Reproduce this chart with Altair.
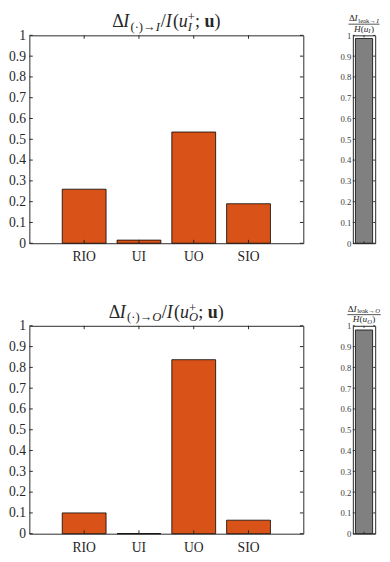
import altair as alt
import pandas as pd

# ---------------- data ----------------
categories = ["RIO", "UI", "UO", "SIO"]
input_values = [0.26, 0.015, 0.535, 0.19]
output_values = [0.10, 0.0, 0.837, 0.065]
leak_category = ["leak"]
leak_input_value = [0.985]
leak_output_value = [0.98]
y_ticks = [0, 0.1, 0.2, 0.3, 0.4, 0.5, 0.6, 0.7, 0.8, 0.9, 1]

# ---------------- style ----------------
FONT = "Liberation Serif"
ORANGE = "#D95319"
GRAY = "#808080"
INK = "#262626"
W, H, WS = 282, 214, 23
TL = 3.5      # inward tick length, main panels
TLS = 2.0     # inward tick length, small panels

EM = {
    "r": {"Δ": 0.612, "(": 0.333, ")": 0.333, "/": 0.278, ";": 0.278, " ": 0.25,
          "·": 0.25, "→": 1.08, "+": 0.564, "l": 0.278, "e": 0.444, "a": 0.444,
          "k": 0.5, "H": 0.722},
    "i": {"I": 0.4, "u": 0.5, "O": 0.75, "H": 0.722},
    "b": {"u": 0.556},
}


def text_width(t, style, size):
    tbl = EM[style]
    return sum(tbl.get(c, 0.5) for c in t) * size


def text_layer(t, style, size, x, y):
    kw = dict(align="left", baseline="alphabetic", font=FONT, fontSize=size, color=INK)
    if style == "i":
        kw["fontStyle"] = "italic"
    if style == "b":
        kw["fontWeight"] = "bold"
    return alt.Chart(pd.DataFrame({"t": [t]})).mark_text(**kw).encode(
        x=alt.value(x), y=alt.value(y), text="t:N")


def place(items, cx, base):
    widths = []
    for it in items:
        group = it if isinstance(it, list) else [it]
        widths.append(max(text_width(t, s, z) for t, s, z, d in group))
    total = sum(widths)
    x = cx - total / 2
    layers = []
    for it, w in zip(items, widths):
        group = it if isinstance(it, list) else [it]
        for t, s, z, d in group:
            layers.append(text_layer(t, s, z, x, base + d))
        x += w
    return layers, total


def main_panel(values, s):
    df = pd.DataFrame({"cat": categories, "val": values})
    xs = alt.Scale(type="band", domain=categories, paddingInner=0.2, paddingOuter=0.6)
    ys = alt.Scale(domain=[0, 1], nice=False, zero=True)
    ax_x = alt.Axis(ticks=False, domain=False, grid=False, labelAngle=0, labelPadding=7,
                    labelFont=FONT, labelFontSize=14, labelColor=INK, title=None)
    ax_y = alt.Axis(values=y_ticks, format="~g", ticks=False, domain=False, grid=False,
                    labelPadding=4, labelFont=FONT, labelFontSize=14, labelColor=INK,
                    title=None)

    def X():
        return alt.X("cat:N", scale=xs, axis=ax_x, sort=categories)

    def Y():
        return alt.Y("val:Q", scale=ys, axis=ax_y)

    bars = alt.Chart(df).mark_bar(color=ORANGE, stroke="black", strokeWidth=0.8).encode(
        x=X(), y=Y())
    tdf = pd.DataFrame({"val": y_ticks})
    cdf = pd.DataFrame({"cat": categories})
    rs = dict(color=INK, strokeWidth=1)
    left = alt.Chart(tdf).mark_rule(**rs).encode(y=Y(), x=alt.value(0), x2=alt.value(TL))
    right = alt.Chart(tdf).mark_rule(**rs).encode(y=Y(), x=alt.value(W - TL), x2=alt.value(W))
    bottom = alt.Chart(cdf).mark_rule(**rs).encode(x=X(), y=alt.value(H), y2=alt.value(H - TL))
    top = alt.Chart(cdf).mark_rule(**rs).encode(x=X(), y=alt.value(0), y2=alt.value(TL))

    B, S = 18.5, 13
    SUB, SUP = 3.5, -6
    items = [("Δ", "r", B, 0), ("I", "i", B, 0), ("(·)→", "r", S, SUB), (s, "i", S, SUB),
             ("/", "r", B, 0), ("I", "i", B, 0), ("(", "r", B, 0), ("u", "i", B, 0),
             [("+", "r", S, SUP), (s, "i", S, SUB)], ("; ", "r", B, 0), ("u", "b", B, 0),
             (")", "r", B, 0)]
    title_layers, _ = place(items, W / 2, -8.3)
    return alt.layer(bars, left, right, bottom, top, *title_layers).properties(width=W, height=H)


def small_panel(value, s):
    df = pd.DataFrame({"k": leak_category, "val": value})
    xs = alt.Scale(type="band", domain=leak_category, paddingInner=0, paddingOuter=0.15)
    ys = alt.Scale(domain=[0, 1], nice=False, zero=True)
    ax_y = alt.Axis(values=y_ticks, format="~g", ticks=False, domain=False, grid=False,
                    labelPadding=2, labelFont=FONT, labelFontSize=9, labelColor="#404040",
                    title=None)

    def X():
        return alt.X("k:N", scale=xs, axis=None)

    def Y():
        return alt.Y("val:Q", scale=ys, axis=ax_y)

    bars = alt.Chart(df).mark_bar(color=GRAY, stroke="black", strokeWidth=0.8).encode(
        x=X(), y=Y())
    tdf = pd.DataFrame({"val": y_ticks})
    kdf = pd.DataFrame({"k": leak_category})
    rs = dict(color=INK, strokeWidth=1)
    left = alt.Chart(tdf).mark_rule(**rs).encode(y=Y(), x=alt.value(0), x2=alt.value(TLS))
    right = alt.Chart(tdf).mark_rule(**rs).encode(y=Y(), x=alt.value(WS - TLS), x2=alt.value(WS))
    bottom = alt.Chart(kdf).mark_rule(**rs).encode(x=X(), y=alt.value(H), y2=alt.value(H - TLS))
    top = alt.Chart(kdf).mark_rule(**rs).encode(x=X(), y=alt.value(0), y2=alt.value(TLS))

    F, f = 9.5, 6.8
    num = [("Δ", "r", F, 0), ("I", "i", F, 0), ("leak→", "r", f, 1.5), (s, "i", f, 1.5)]
    den = [("H", "i", F, 0), ("(", "r", F, 0), ("u", "i", F, 0), (s, "i", f, 1.5), (")", "r", F, 0)]
    nl, wn = place(num, WS / 2, -14.5)
    dl, wd = place(den, WS / 2, -3.5)
    w = max(wn, wd)
    line = alt.Chart(pd.DataFrame({"a": [0]})).mark_rule(color=INK, strokeWidth=0.8).encode(
        x=alt.value(WS / 2 - w / 2 - 0.5), x2=alt.value(WS / 2 + w / 2 + 0.5), y=alt.value(-11.5))
    return alt.layer(bars, left, right, bottom, top, line, *nl, *dl).properties(width=WS, height=H)


chart = alt.concat(
    main_panel(input_values, "I"), small_panel(leak_input_value, "I"),
    main_panel(output_values, "O"), small_panel(leak_output_value, "O"),
    columns=2, spacing={"row": 85, "column": 51}, bounds="flush", align="each",
).properties(
    padding={"left": 0, "top": -5, "right": 0, "bottom": 0}
).configure_view(stroke=INK, strokeWidth=1)

chart.save("out.html", embed_options={"renderer": "svg", "actions": False})
